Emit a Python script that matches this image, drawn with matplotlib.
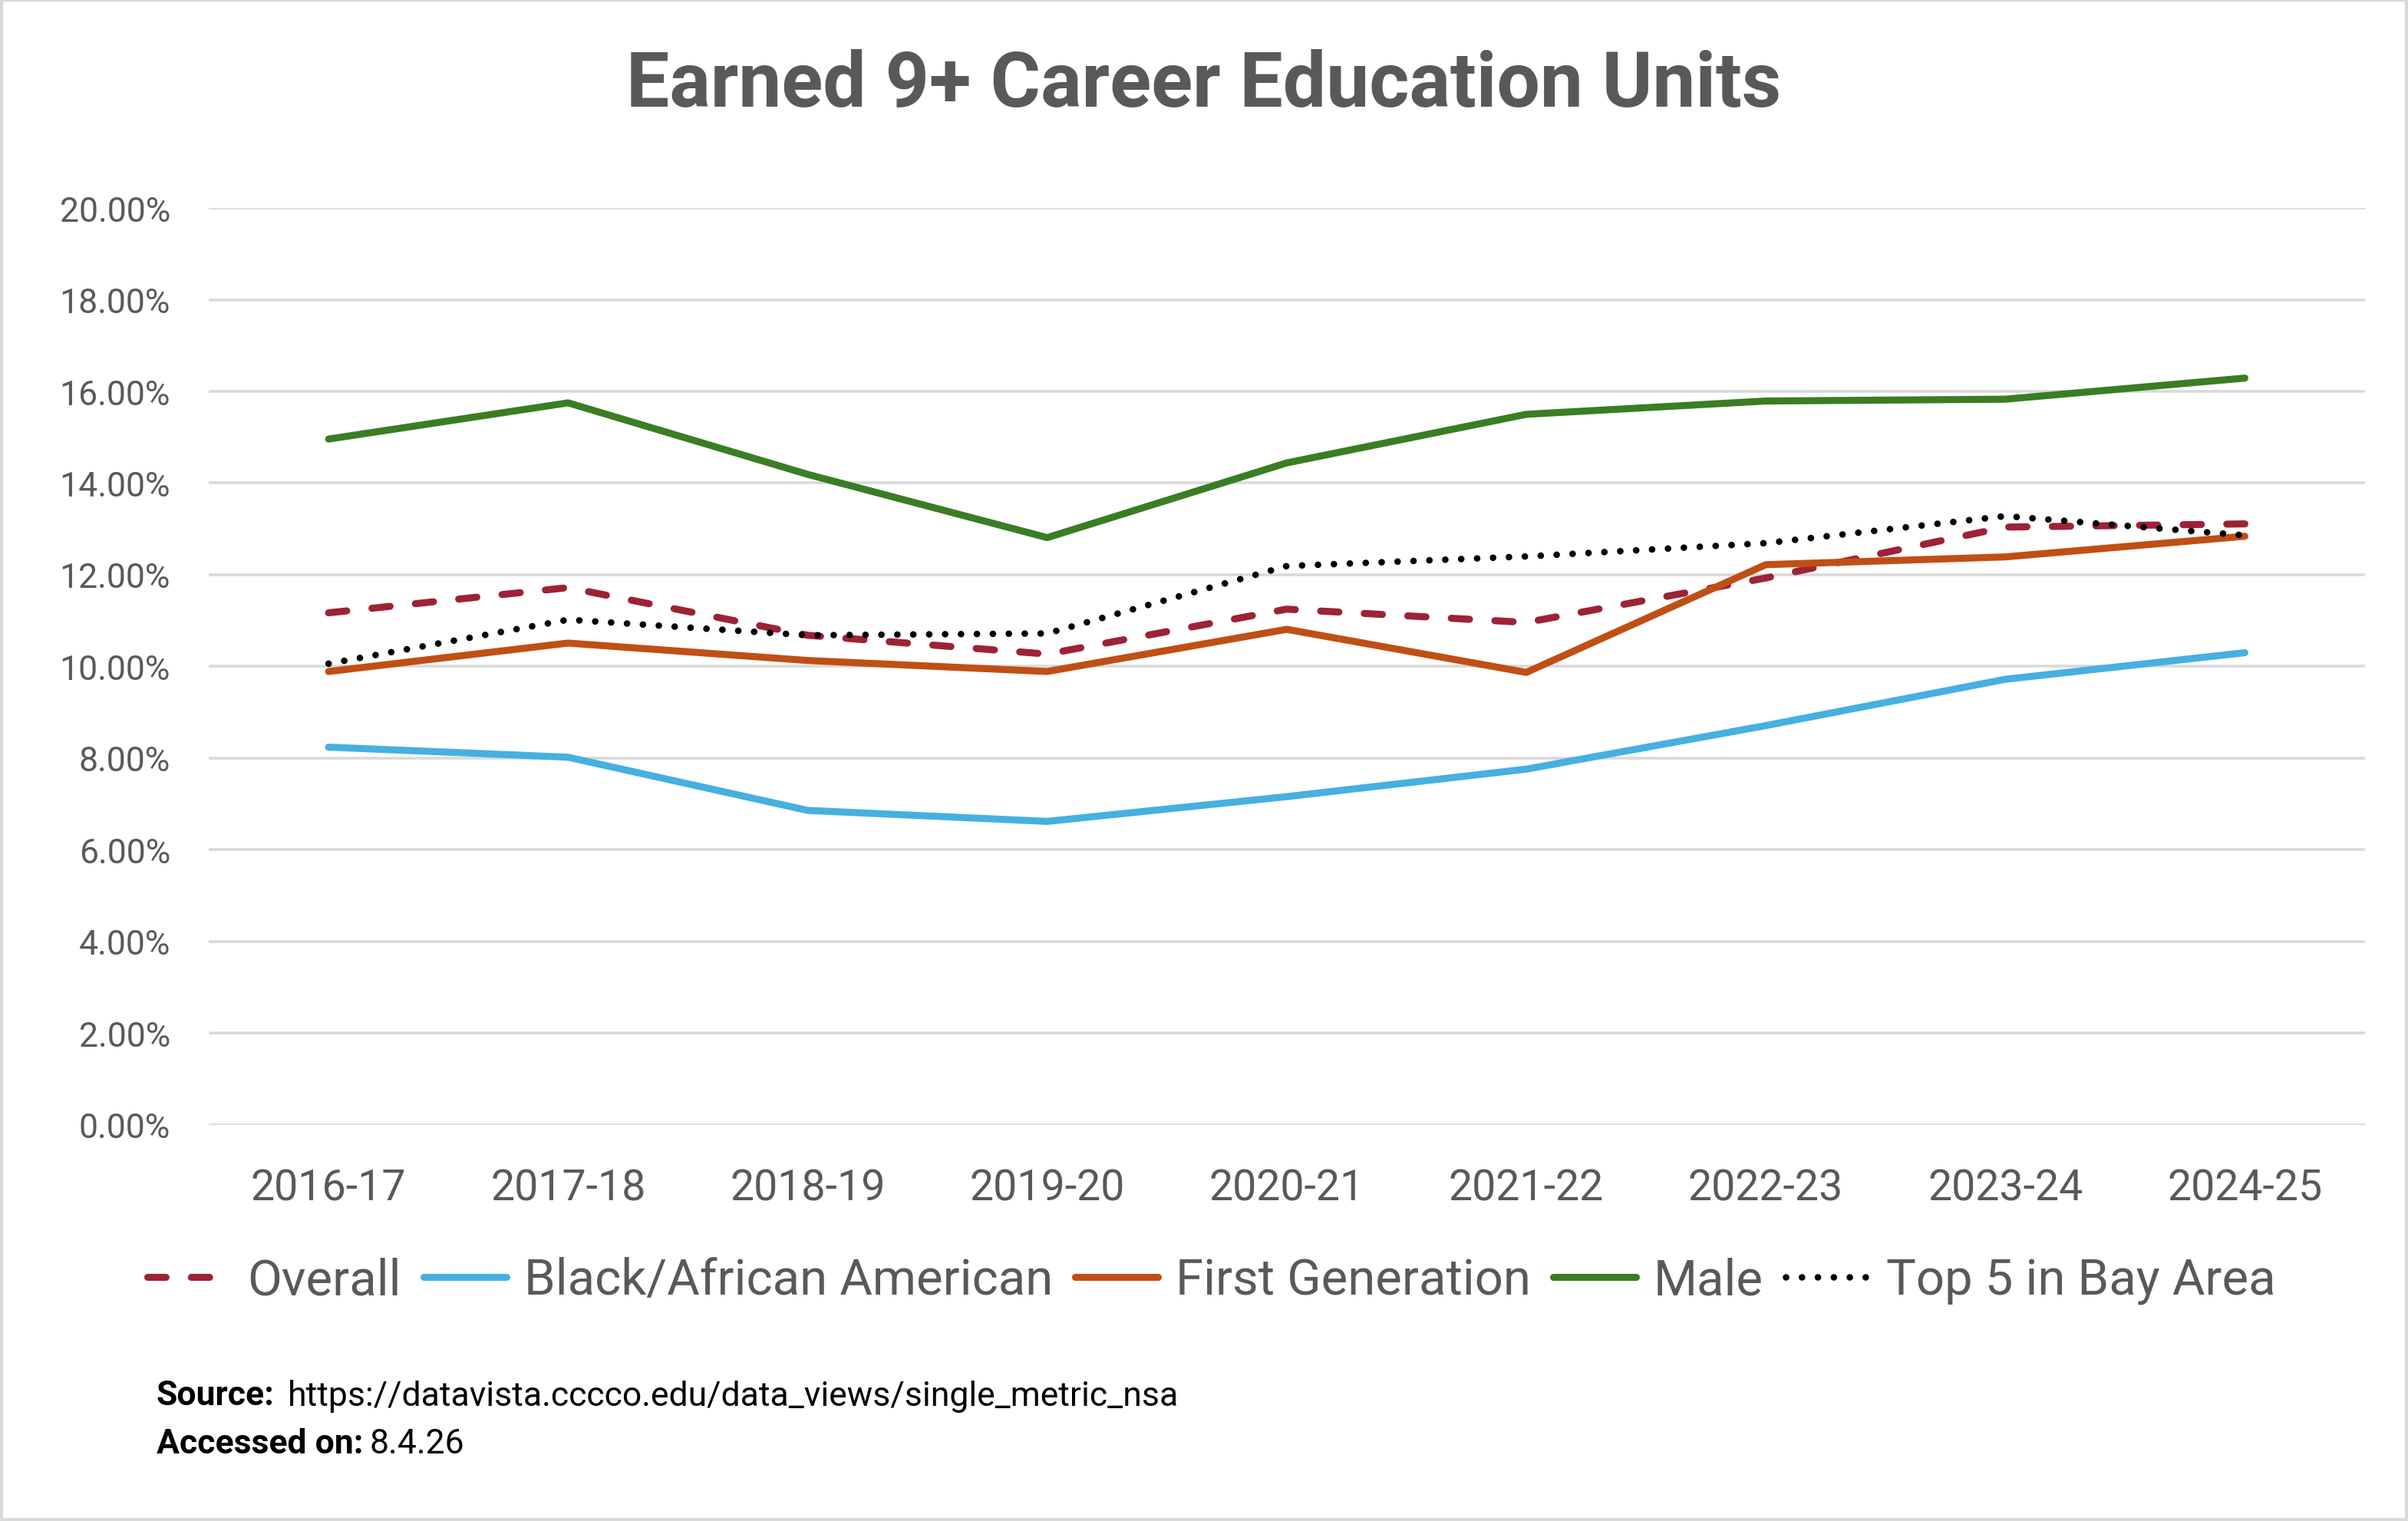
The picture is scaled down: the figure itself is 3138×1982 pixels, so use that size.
import matplotlib
matplotlib.use('Agg')
import matplotlib.pyplot as plt
from matplotlib.patches import Rectangle
from matplotlib.ticker import FuncFormatter

plt.rcParams['font.family'] = ['Roboto', 'DejaVu Sans']

years = ['2016-17', '2017-18', '2018-19', '2019-20', '2020-21',
         '2021-22', '2022-23', '2023-24', '2024-25']

# percentages
overall = [11.17, 11.72, 10.68, 10.27, 11.25, 10.96, 11.93, 13.04, 13.11]
black = [8.24, 8.02, 6.86, 6.62, 7.16, 7.76, 8.71, 9.72, 10.30]
first_gen = [9.89, 10.51, 10.13, 9.89, 10.81, 9.87, 12.22, 12.39, 12.84]
male = [14.96, 15.75, 14.19, 12.81, 14.44, 15.50, 15.79, 15.83, 16.29]
top5_bay = [10.06, 11.02, 10.68, 10.72, 12.19, 12.40, 12.69, 13.28, 12.86]

gray = '#595959'

fig = plt.figure(figsize=(15.69, 9.915), dpi=200)
ax = fig.add_axes([0.0867, 0.2603, 0.8953, 0.6025])

x = range(len(years))
lw = 3.3
ax.plot(x, overall, color='#9E2236', lw=lw, dashes=(2.6, 3.6),
        dash_capstyle='round', label='Overall')
ax.plot(x, black, color='#46B0E0', lw=lw, solid_capstyle='round',
        label='Black/African American')
ax.plot(x, first_gen, color='#C04F15', lw=lw, solid_capstyle='round',
        label='First Generation')
ax.plot(x, male, color='#3B7D23', lw=lw, solid_capstyle='round', label='Male')
ax.plot(x, top5_bay, color='black', lw=3.1, dashes=(0.01, 2.4),
        dash_capstyle='round', label='Top 5 in Bay Area')

ax.set_xlim(-0.5, len(years) - 0.5)
ax.set_ylim(0, 20)
ax.set_yticks(range(0, 21, 2))
ax.yaxis.set_major_formatter(FuncFormatter(lambda v, p: f'{v:.2f}%'))
ax.set_xticks(list(x))
ax.set_xticklabels(years)
ax.tick_params(axis='y', length=0, pad=18, labelsize=16, labelcolor=gray)
ax.tick_params(axis='x', length=0, pad=20, labelsize=20, labelcolor=gray)
ax.grid(axis='y', color='#d9d9d9', lw=1.3)
ax.set_axisbelow(True)
for s in ax.spines.values():
    s.set_visible(False)

fig.text(0.5, 0.944, 'Earned 9+ Career Education Units', ha='center', va='center',
         fontsize=36, fontweight='bold', color=gray)

fig.legend(loc='center', bbox_to_anchor=(0.503, 0.158), ncol=5, frameon=False,
           fontsize=23.5, labelcolor=gray, handlelength=1.65, handletextpad=0.35,
           columnspacing=0.45)

t1 = fig.text(0.065, 0.0825, 'Source:', fontsize=16, fontweight='bold',
              color='black', va='center')
ax.annotate('https://datavista.cccco.edu/data_views/single_metric_nsa',
            xy=(1, 0.5), xycoords=t1, xytext=(6, 0), textcoords='offset points',
            fontsize=16, color='black', va='center', ha='left',
            annotation_clip=False)
t2 = fig.text(0.065, 0.051, 'Accessed on:', fontsize=16, fontweight='bold',
              color='black', va='center')
ax.annotate('8.4.26', xy=(1, 0.5), xycoords=t2, xytext=(3, 0),
            textcoords='offset points', fontsize=16, color='black',
            va='center', ha='left', annotation_clip=False)

fig.patches.append(Rectangle((0.0005, 0.0008), 0.999, 0.9985, transform=fig.transFigure,
                             fill=False, edgecolor='#d9d9d9', lw=1.5))

fig.savefig('out.png', dpi=200)
